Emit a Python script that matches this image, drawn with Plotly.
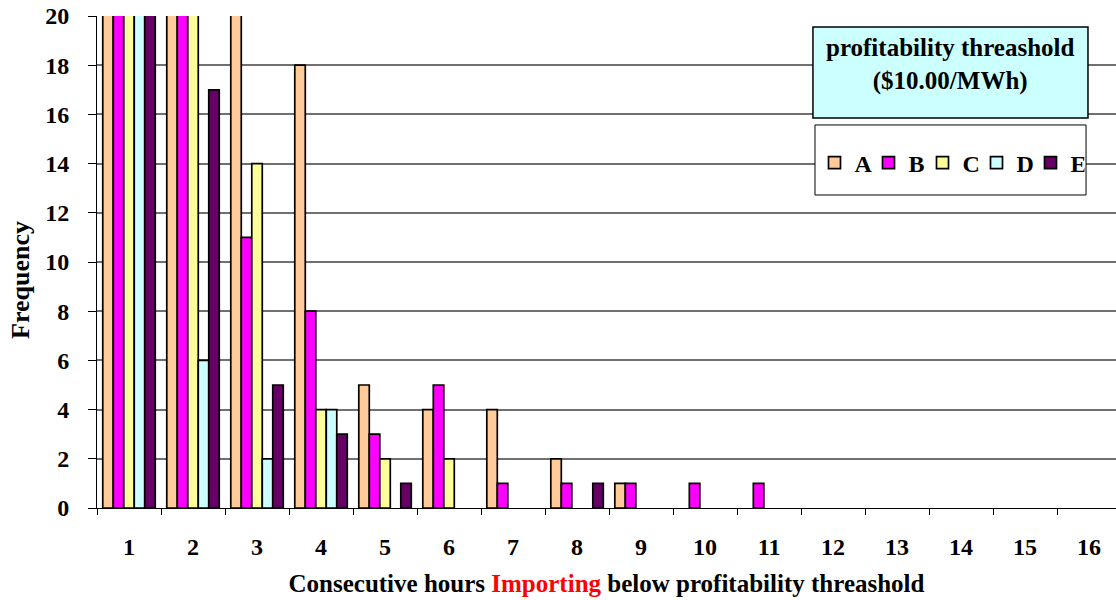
import plotly.graph_objects as go

# Run lengths (consecutive hours) on the category axis
hours = [str(h) for h in range(1, 17)]

# Frequency of each run length per series; the first few columns run
# past the 20 ceiling of the value axis and are cut off at the top
freq_a = [118, 37, 24, 18, 5, 4, 4, 2, 1, 0, 0, 0, 0, 0, 0, 0]
freq_b = [96, 29, 11, 8, 3, 5, 1, 1, 1, 1, 1, 0, 0, 0, 0, 0]
freq_c = [84, 23, 14, 4, 2, 2, 0, 0, 0, 0, 0, 0, 0, 0, 0, 0]
freq_d = [52, 6, 2, 4, 0, 0, 0, 0, 0, 0, 0, 0, 0, 0, 0, 0]
freq_e = [41, 17, 5, 3, 1, 0, 0, 1, 0, 0, 0, 0, 0, 0, 0, 0]

series_names = ["A", "B", "C", "D", "E"]
series_values = [freq_a, freq_b, freq_c, freq_d, freq_e]
series_colors = ["#FFCC99", "#FF00FF", "#FFFF99", "#CCFFFF", "#660066"]

y_ticks = list(range(0, 21, 2))

FONT = "Liberation Serif"

fig = go.Figure()
for name, vals, col in zip(series_names, series_values, series_colors):
    # empty counts get no bar at all (avoids a flat outline on the baseline)
    fig.add_trace(go.Bar(
        x=hours, y=[v if v > 0 else None for v in vals], name=name,
        marker=dict(color=col, line=dict(color="#000000", width=1.7)),
    ))

fig.update_layout(
    width=1116, height=600,
    margin=dict(l=97, r=0, t=16, b=92),
    paper_bgcolor="white", plot_bgcolor="white",
    barmode="group", bargap=0.18, bargroupgap=0,
    font=dict(family=FONT, size=24, color="black"),
    showlegend=True,
    legend=dict(
        orientation="h", x=0.8366, y=0.701, xanchor="center", yanchor="middle",
        bgcolor="rgba(0,0,0,0)", borderwidth=0,
        font=dict(family=FONT, size=24, color="black", weight="bold"),
        itemwidth=30, entrywidth=9, entrywidthmode="pixels",
        traceorder="normal",
    ),
    xaxis=dict(
        range=[-0.5, 15.42], type="category",
        showline=True, linecolor="black", linewidth=1,
        ticks="outside", tickson="boundaries", ticklen=6, tickcolor="black",
        showgrid=False,
        tickfont=dict(family=FONT, size=24, color="black", weight="bold"),
        ticklabelstandoff=17,
        title=dict(
            text="Consecutive hours <span style='color:#FF0000'>Importing</span> below profitability threashold",
            font=dict(family=FONT, size=25, color="black", weight="bold"),
            standoff=15,
        ),
    ),
    yaxis=dict(
        range=[0, 20], tickvals=y_ticks,
        showline=True, linecolor="black", linewidth=1,
        ticks="outside", ticklen=8, tickcolor="black",
        showgrid=True, gridcolor="#707070", gridwidth=1.5,
        zeroline=False,
        tickfont=dict(family=FONT, size=24, color="black", weight="bold"),
        ticklabelstandoff=14,
    ),
)

# Value-axis caption, set a little below the middle of the axis
fig.add_annotation(xref="paper", yref="paper", x=-0.0756, y=0.4634,
                   xanchor="center", yanchor="middle", textangle=-90,
                   text="Frequency", showarrow=False,
                   font=dict(family=FONT, size=26, color="black", weight="bold"))

# Threshold caption box
fig.add_shape(type="rect", xref="paper", yref="paper",
              x0=0.7026, x1=0.9725, y0=0.7927, y1=0.9776,
              fillcolor="#CCFFFF", line=dict(color="black", width=1.5),
              layer="above")
fig.add_annotation(xref="paper", yref="paper", x=0.8376, y=0.9014,
                   xanchor="center", yanchor="middle",
                   text="profitability threashold<br>($10.00/MWh)",
                   showarrow=False, align="center",
                   font=dict(family=FONT, size=25, color="black", weight="bold"))

# Frame around the legend entries
fig.add_shape(type="rect", xref="paper", yref="paper",
              x0=0.7046, x1=0.9706, y0=0.6362, y1=0.7785,
              fillcolor="white", line=dict(color="black", width=1),
              layer="above")

fig.write_html("out.html")
